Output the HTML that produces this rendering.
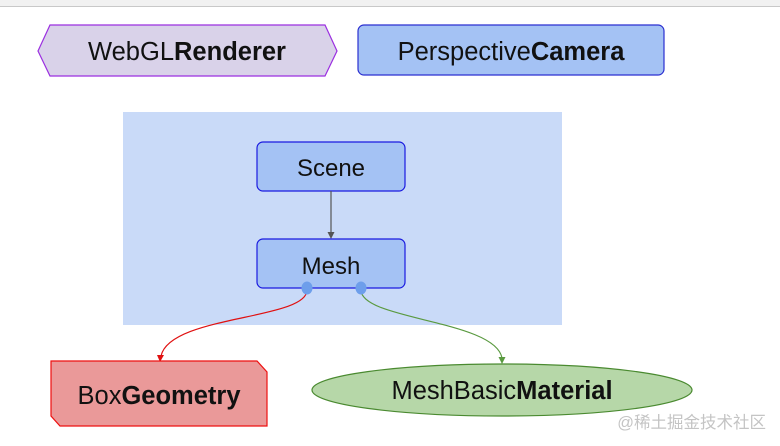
<!DOCTYPE html>
<html><head><style>
body{margin:0;background:#fff;}
svg{display:block;font-family:"Liberation Sans","Noto Sans CJK SC",sans-serif;}
</style></head><body>
<svg width="780" height="446" viewBox="0 0 780 446">
<rect x="0" y="0" width="780" height="6" fill="#f1f1f1"/>
<line x1="0" y1="6.5" x2="780" y2="6.5" stroke="#c8c8c8" stroke-width="1"/>
<polygon points="38,51 50,25 325,25 337,51 325,76 50,76" fill="#d9d2e9" stroke="#9b2fe0" stroke-width="1.2"/>
<text x="187" y="60" font-size="25.5" text-anchor="middle" fill="#111">WebGL<tspan font-weight="bold">Renderer</tspan></text>
<rect x="358" y="25" width="306" height="50" rx="6" fill="#a4c2f4" stroke="#2b2fd0" stroke-width="1.2"/>
<text x="511" y="60" font-size="25.5" text-anchor="middle" fill="#111">Perspective<tspan font-weight="bold">Camera</tspan></text>
<rect x="123" y="112" width="439" height="213" fill="#c9daf8"/>
<rect x="257" y="142" width="148" height="49" rx="6" fill="#a4c2f4" stroke="#1a1ae0" stroke-width="1.2"/>
<text x="331" y="176" font-size="24" text-anchor="middle" fill="#111">Scene</text>
<line x1="331" y1="191" x2="331" y2="233" stroke="#555" stroke-width="1.2"/>
<polygon points="327.5,232 334.5,232 331,239" fill="#555"/>
<rect x="257" y="239" width="148" height="49" rx="6" fill="#a4c2f4" stroke="#1a1ae0" stroke-width="1.2"/>
<text x="331" y="274" font-size="24" text-anchor="middle" fill="#111">Mesh</text>
<path d="M307,290 C307,320 170,315 161,356" fill="none" stroke="#e01010" stroke-width="1.2"/>
<polygon points="157,355 164,355 160,362" fill="#e01010"/>
<path d="M361,290 C361,320 495,320 502,358" fill="none" stroke="#5a9a40" stroke-width="1.2"/>
<polygon points="498.5,357 505.5,357 502,364" fill="#5a9a40"/>
<ellipse cx="307" cy="288" rx="5.5" ry="6.5" fill="#6d9eeb"/>
<ellipse cx="361" cy="288" rx="5.5" ry="6.5" fill="#6d9eeb"/>
<polygon points="51,361 257,361 267,372 267,426 60,426 51,416" fill="#ea9999" stroke="#ee1010" stroke-width="1.2"/>
<text x="159" y="404" font-size="25.5" text-anchor="middle" fill="#111">Box<tspan font-weight="bold">Geometry</tspan></text>
<ellipse cx="502" cy="390" rx="190" ry="26" fill="#b6d7a8" stroke="#4a8a30" stroke-width="1.2"/>
<text x="502" y="399" font-size="25.5" text-anchor="middle" fill="#111">MeshBasic<tspan font-weight="bold">Material</tspan></text>
<text x="766" y="428" font-size="16.5" text-anchor="end" fill="#c4c4c4">@稀土掘金技术社区</text>
</svg>
</body></html>
